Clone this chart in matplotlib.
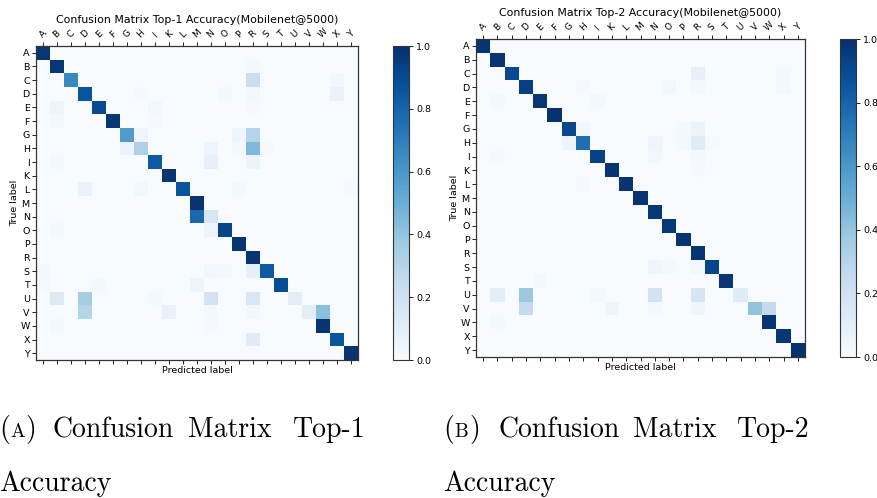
import matplotlib.pyplot as plt
import numpy as np

classes = ["A", "B", "C", "D", "E", "F", "G", "H", "I", "K", "L", "M",
           "N", "O", "P", "R", "S", "T", "U", "V", "W", "X", "Y"]

# per-class recall (diagonal) and the visible confusions (true, predicted, rate)
top1_diag = [0.97, 0.97, 0.66, 0.86, 0.90, 0.97, 0.58, 0.33, 0.84, 0.98, 0.86, 0.98,
             0.15, 0.92, 0.98, 0.98, 0.84, 0.89, 0.10, 0.10, 0.98, 0.86, 0.98]
top1_off = [
    ("B", "R", 0.02), ("C", "R", 0.22), ("C", "X", 0.03),
    ("D", "H", 0.01), ("D", "O", 0.02), ("D", "R", 0.03), ("D", "X", 0.07),
    ("E", "B", 0.05), ("E", "I", 0.03), ("E", "R", 0.01),
    ("F", "B", 0.02), ("F", "I", 0.01),
    ("G", "H", 0.04), ("G", "P", 0.04), ("G", "R", 0.30),
    ("H", "G", 0.06), ("H", "N", 0.05), ("H", "P", 0.02), ("H", "R", 0.45), ("H", "S", 0.01),
    ("I", "B", 0.02), ("I", "N", 0.08), ("I", "R", 0.06),
    ("L", "D", 0.07), ("L", "H", 0.03), ("L", "P", 0.02), ("L", "Y", 0.01),
    ("N", "M", 0.78),
    ("O", "B", 0.02), ("O", "N", 0.05),
    ("S", "A", 0.02), ("S", "N", 0.03), ("S", "O", 0.02), ("S", "R", 0.08),
    ("T", "A", 0.01), ("T", "E", 0.02), ("T", "M", 0.05),
    ("U", "B", 0.13), ("U", "D", 0.35), ("U", "I", 0.02), ("U", "N", 0.18), ("U", "R", 0.15),
    ("V", "D", 0.30), ("V", "K", 0.07), ("V", "N", 0.02), ("V", "R", 0.03), ("V", "W", 0.42),
    ("W", "B", 0.02), ("W", "N", 0.01),
    ("X", "R", 0.12),
]

top2_diag = [0.98, 0.98, 0.90, 0.94, 0.97, 0.99, 0.91, 0.76, 0.93, 0.98, 0.98, 0.98,
             0.97, 0.97, 0.98, 0.98, 0.92, 0.97, 0.12, 0.40, 0.98, 0.97, 0.99]
top2_off = [
    ("C", "R", 0.08), ("C", "X", 0.02),
    ("D", "H", 0.01), ("D", "O", 0.03), ("D", "R", 0.02), ("D", "X", 0.02),
    ("E", "B", 0.02), ("E", "I", 0.02),
    ("G", "H", 0.03), ("G", "P", 0.02), ("G", "R", 0.06),
    ("H", "G", 0.05), ("H", "N", 0.04), ("H", "P", 0.02), ("H", "R", 0.12), ("H", "S", 0.01),
    ("I", "B", 0.01), ("I", "N", 0.03), ("I", "R", 0.02),
    ("K", "R", 0.01), ("L", "H", 0.01),
    ("S", "N", 0.04), ("S", "O", 0.02), ("S", "R", 0.03),
    ("T", "E", 0.02),
    ("U", "B", 0.10), ("U", "D", 0.38), ("U", "I", 0.02), ("U", "N", 0.18), ("U", "R", 0.17),
    ("V", "D", 0.25), ("V", "K", 0.05), ("V", "N", 0.02), ("V", "R", 0.04), ("V", "W", 0.25),
    ("W", "B", 0.02),
]

titles = ["Confusion Matrix Top-1 Accuracy(Mobilenet@5000)",
          "Confusion Matrix Top-2 Accuracy(Mobilenet@5000)"]

W, H = 877, 498


def build_matrix(diag, off):
    cm = np.diag(np.array(diag, dtype=float))
    for true, pred, v in off:
        cm[classes.index(true), classes.index(pred)] = v
    return cm


def plot_cm(ax, cax, cm, title):
    im = ax.imshow(cm, interpolation="nearest", cmap=plt.cm.Blues,
                   vmin=0, vmax=1, aspect="auto")
    ticks = np.arange(len(classes))
    ax.set_xticks(ticks)
    ax.set_xticklabels(classes, rotation=45, fontsize=6.5)
    ax.set_yticks(ticks)
    ax.set_yticklabels(classes, fontsize=6.8)
    ax.tick_params(top=True, bottom=True, labeltop=True, labelbottom=False,
                   length=3, width=0.6, pad=1.5)
    ax.set_title(title, fontsize=7.9, pad=3)
    ax.set_xlabel("Predicted label", fontsize=6.8, labelpad=1)
    ax.set_ylabel("True label", fontsize=6.8, labelpad=1)
    for s in ax.spines.values():
        s.set_linewidth(0.9)
        s.set_color("#333333")
    cb = ax.figure.colorbar(im, cax=cax, ticks=[0, 0.2, 0.4, 0.6, 0.8, 1.0])
    cb.ax.tick_params(labelsize=6.8, length=3, width=0.6, pad=2)
    cb.outline.set_linewidth(0.8)
    cb.outline.set_edgecolor("#333333")


def ptext(fig, x, y, s, size=20):
    # x, y in pixels from the top-left corner, y at the baseline
    return fig.text(x / W, 1 - y / H, s, family="cmr10", fontsize=size,
                    va="baseline")


def caption(fig, x0, y, letter, words, xs):
    # "(A)" with the letter in small caps, then justified words
    ptext(fig, x0, y, "(")
    ptext(fig, x0 + 11, y, letter, size=14)
    ptext(fig, x0 + 26, y, ")")
    for w, wx in zip(words, xs):
        ptext(fig, wx, y, w)


fig = plt.figure(figsize=(W / 100, H / 100), dpi=100)

ax1 = fig.add_axes([36 / W, 1 - 360 / H, 322 / W, 314 / H])
cax1 = fig.add_axes([393 / W, 1 - 360 / H, 16 / W, 314 / H])
ax2 = fig.add_axes([476 / W, 1 - 357 / H, 329 / W, 318 / H])
cax2 = fig.add_axes([840 / W, 1 - 357 / H, 16 / W, 318 / H])

plot_cm(ax1, cax1, build_matrix(top1_diag, top1_off), titles[0])
plot_cm(ax2, cax2, build_matrix(top2_diag, top2_off), titles[1])

caption(fig, -1, 437, "A", ["Confusion", "Matrix", "Top-1"], [53, 188, 293])
caption(fig, 443, 437, "B", ["Confusion", "Matrix", "Top-2"], [498, 633, 737])
ptext(fig, -1, 491, "Accuracy")
ptext(fig, 443, 491, "Accuracy")

fig.savefig("out.png", dpi=100)
